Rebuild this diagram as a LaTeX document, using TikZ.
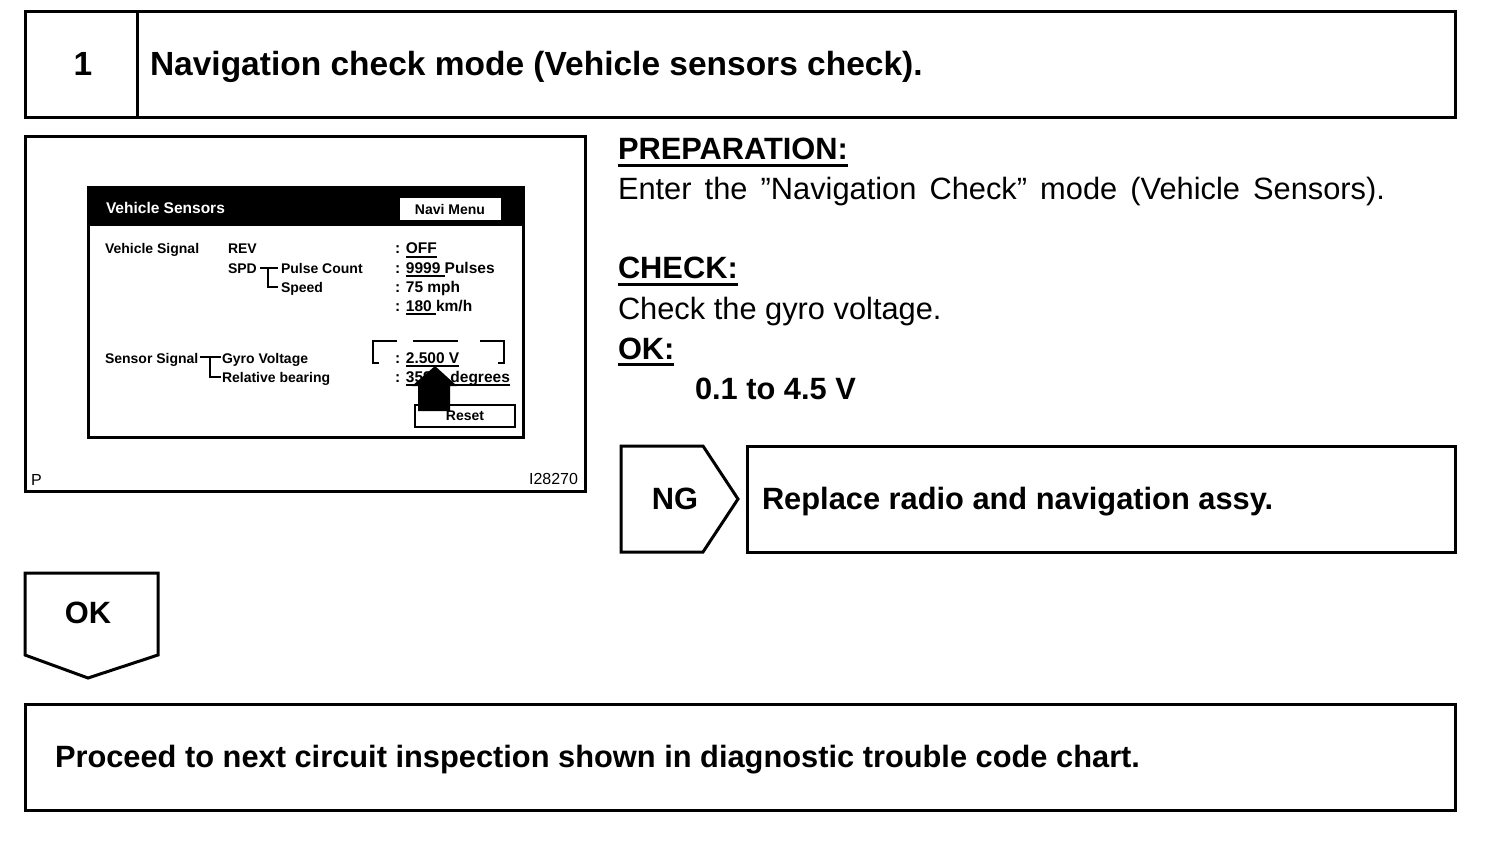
\documentclass[tikz,border=0pt]{standalone}
\usepackage{fontspec}
\setmainfont{Liberation Sans}
\newfontfamily\screenfont{Liberation Sans}
\usetikzlibrary{positioning}
\newcommand{\undl}[1]{\setbox0\hbox{#1}\rlap{\rule[-0.23em]{\wd0}{0.09em}}\box0}

\begin{document}
\begin{tikzpicture}[x=1pt,y=-1pt,
    every node/.style={inner sep=0pt,outer sep=0pt},
    frame/.style={draw,line width=3pt,anchor=north west},
    big/.style={font=\fontsize{33.5pt}{38pt}\selectfont\bfseries},
    bold/.style={font=\fontsize{30.8pt}{36pt}\selectfont\bfseries,anchor=base west},
    plain/.style={font=\fontsize{30.8pt}{36pt}\selectfont,anchor=base west},
    scr/.style={font=\screenfont\fontsize{14pt}{16pt}\selectfont\bfseries,anchor=base west},
    val/.style={font=\screenfont\fontsize{15.5pt}{17pt}\selectfont\bfseries,anchor=base west},
    tag/.style={font=\fontsize{16pt}{18pt}\selectfont},
    wire/.style={line width=1.5pt},
  ]
  \useasboundingbox (0,0) rectangle (1504,842);

  % step header
  \node[frame,minimum width=1430,minimum height=106] (header) at (25,12) {};
  \draw[line width=3pt] (137,12) -- (137,118);
  \node[big,anchor=base] (stepnum) at (83,76) {1};
  \node[big,anchor=base west] (steptitle) at (150,76) {Navigation check mode (Vehicle sensors check).};

  % illustration
  \node[frame,minimum width=560,minimum height=354] (figure) at (25,137) {};
  \node[frame,minimum width=435,minimum height=249] (screen) at (88,188) {};
  \fill (88,188) rectangle (523,226);
  \node[val,text=white] (scrtitle) at (106,214) {Vehicle Sensors};
  \node[fill=white,minimum width=101,minimum height=22,
        font=\screenfont\fontsize{14pt}{16pt}\selectfont\bfseries] (navimenu) at (450,209) {Navi Menu};

  \node[scr] (vsig) at (105,254) {Vehicle Signal};
  \node[scr] (rev) at (228,254) {REV};
  \node[scr] (spd) at (228,273) {SPD};
  \node[scr] (pulse) at (281,273) {Pulse Count};
  \node[scr] (speed) at (281,292) {Speed};
  \node[val] (off) at (395,254) {: \undl{OFF}};
  \node[val] (pulses) at (395,273) {: \undl{9999 }Pulses};
  \node[val] (mph) at (395,292) {: 75 mph};
  \node[val] (kmh) at (395,311) {: \undl{180 }km/h};
  \draw[wire] ([xshift=3pt,yshift=5pt]spd.base east) -- ([xshift=-3pt,yshift=5pt]pulse.base west);
  \draw[wire] ([xshift=-13pt,yshift=5pt]pulse.base west) |- ([xshift=-3pt,yshift=5pt]speed.base west);

  \node[scr] (ssig) at (105,363) {Sensor Signal};
  \node[scr] (gyro) at (222,363) {Gyro Voltage};
  \node[scr] (bearing) at (222,382) {Relative bearing};
  \node[val] (volt) at (395,363) {: \undl{2.500 V}};
  \node[val] (deg) at (395,382) {: \undl{\makebox[104pt][s]{359 degrees}}};
  \draw[wire] ([xshift=2pt,yshift=6pt]ssig.base east) -- ([xshift=-1pt,yshift=6pt]gyro.base west);
  \draw[wire] ([xshift=-12pt,yshift=6pt]gyro.base west) |- ([xshift=-1pt,yshift=5pt]bearing.base west);

  % dashed marker round the voltage
  \draw[wire] (379,363) -- (373,363) -- (373,341) -- (397,341);
  \draw[wire] (413,341) -- (458,341);
  \draw[wire] (480,341) -- (504,341) -- (504,363) -- (498,363);

  \node[draw,line width=2pt,minimum width=100,minimum height=22,
        font=\screenfont\fontsize{14pt}{16pt}\selectfont\bfseries] (reset) at (465,416) {Reset};
  \fill (418,411) -- (418,386) -- (412,386) -- (435,366) -- (457,386) -- (450,386) -- (450,411) -- cycle;

  \node[tag,anchor=base west] (figp) at (31,485) {P};
  \node[tag,anchor=base east] (figid) at (578,484) {I28270};

  % instructions
  \node[bold] (prep) at (618,160) {\undl{PREPARATION:}};
  \node[plain] (prepbody) at (618,200) {\makebox[767pt][s]{Enter the ”Navigation Check” mode (Vehicle Sensors).}};
  \node[bold] (check) at (618,279) {\undl{CHECK:}};
  \node[plain] (checkbody) at (618,319) {Check the gyro voltage.};
  \node[bold] (ok) at (618,359) {\undl{OK:}};
  \node[bold] (okval) at (695,399) {0.1 to 4.5 V};

  % NG branch
  \draw[line width=3pt] (621,446) -- (703,446) -- (738,499) -- (703,552) -- (621,552) -- cycle;
  \node[bold,anchor=base] (ng) at (675,509) {NG};
  \node[frame,minimum width=708,minimum height=106] (ngbox) at (747,446) {};
  \node[bold] (ngtext) at (762,509) {Replace radio and navigation assy.};

  % OK branch
  \draw[line width=3pt] (25,573) -- (158,573) -- (158,655) -- (88,678) -- (25,655) -- cycle;
  \node[bold,anchor=base] (okflag) at (88,623) {OK};
  \node[frame,minimum width=1430,minimum height=106] (nextbox) at (25,704) {};
  \node[bold] (nexttext) at (55,767) {Proceed to next circuit inspection shown in diagnostic trouble code chart.};
\end{tikzpicture}
\end{document}
